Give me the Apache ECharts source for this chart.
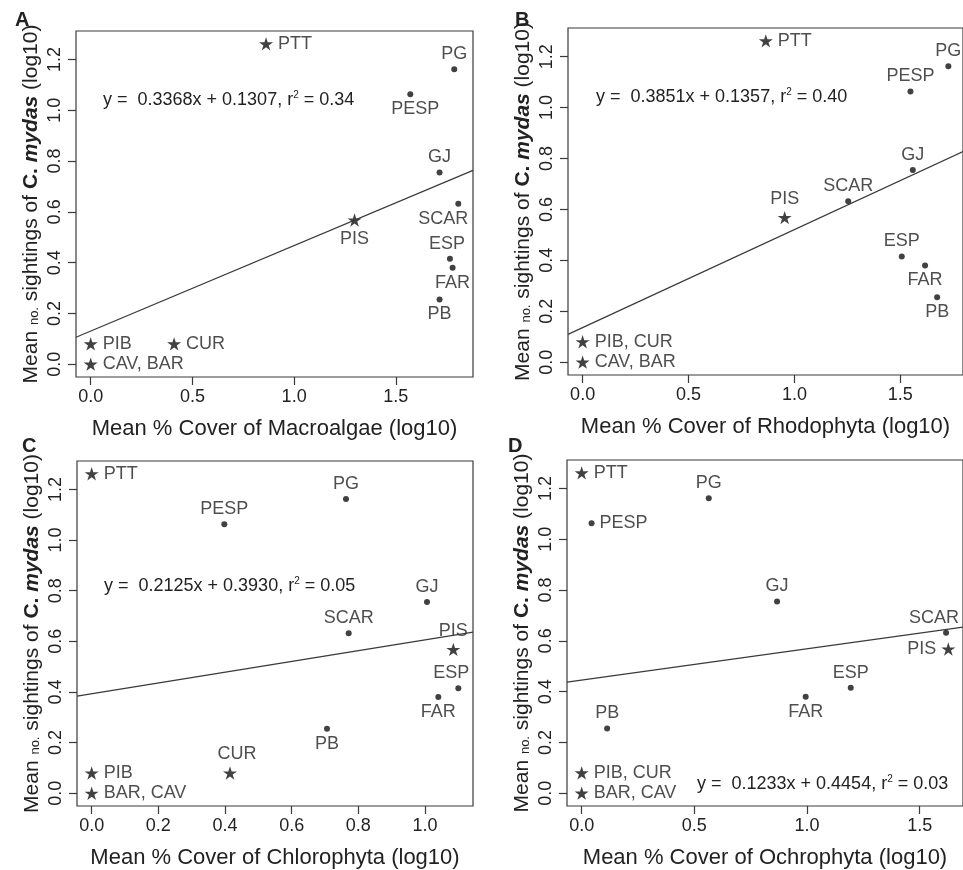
<!DOCTYPE html>
<html>
<head>
<meta charset="utf-8">
<script src="https://cdn.jsdelivr.net/npm/echarts@6/dist/echarts.min.js"></script>
<style>
	html, body { margin: 0; padding: 0; background: #fff; overflow: hidden; }
	#chart { width: 963px; height: 870px; }
</style>
</head>
<body>
<div id="chart"></div>
<script type="text/javascript">

	// sightings (log10) against algal cover (log10), one set per panel
	var labelsA = ['PTT','PG','PESP','GJ','SCAR','PIS','ESP','FAR','PB','PIB','CUR','CAV, BAR'];
	var coverA  = [0.862, 1.787, 1.571, 1.715, 1.807, 1.297, 1.766, 1.779, 1.715, 0, 0.410, 0];
	var sightA  = [1.262, 1.162, 1.063, 0.755, 0.632, 0.568, 0.415, 0.380, 0.255, 0.080, 0.080, 0];

	var labelsB = ['PTT','PG','PESP','GJ','SCAR','PIS','ESP','FAR','PB','PIB, CUR','CAV, BAR'];
	var coverB  = [0.865, 1.727, 1.548, 1.559, 1.254, 0.954, 1.507, 1.617, 1.674, 0, 0];
	var sightB  = [1.262, 1.162, 1.063, 0.755, 0.632, 0.568, 0.415, 0.380, 0.255, 0.080, 0];

	var labelsC = ['PTT','PG','PESP','GJ','SCAR','PIS','ESP','FAR','PB','CUR','PIB','BAR, CAV'];
	var coverC  = [0, 0.763, 0.398, 1.006, 0.771, 1.085, 1.100, 1.040, 0.706, 0.415, 0, 0];
	var sightC  = [1.262, 1.162, 1.063, 0.755, 0.632, 0.568, 0.415, 0.380, 0.255, 0.080, 0.080, 0];

	var labelsD = ['PTT','PG','PESP','GJ','SCAR','PIS','ESP','FAR','PB','PIB, CUR','BAR, CAV'];
	var coverD  = [0, 0.564, 0.044, 0.867, 1.617, 1.627, 1.194, 0.994, 0.113, 0, 0];
	var sightD  = [1.262, 1.162, 1.063, 0.755, 0.632, 0.568, 0.415, 0.380, 0.255, 0.080, 0];

	// fitted lines
	var slopes     = [0.3368, 0.3851, 0.2125, 0.1233];
	var intercepts = [0.1307, 0.1357, 0.3930, 0.4454];
	var rsq        = ['0.34', '0.40', '0.05', '0.03'];

	var xTicksA = [0, 0.5, 1.0, 1.5];
	var xTicksB = [0, 0.5, 1.0, 1.5];
	var xTicksC = [0, 0.2, 0.4, 0.6, 0.8, 1.0];
	var xTicksD = [0, 0.5, 1.0, 1.5];
	var yTicks  = [0, 0.2, 0.4, 0.6, 0.8, 1.0, 1.2];

	var xTitles = ['Macroalgae', 'Rhodophyta', 'Chlorophyta', 'Ochrophyta'];
	var letters = ['A', 'B', 'C', 'D'];

	// sites drawn with a star, the others are dots
	var starSites = ['PTT','PIS','PIB','CUR','CAV','BAR'];

	// label placement (style only)
	var posA = ['right','top','bottom','top','bottom','bottom','top','bottom','bottom','right','right','right'];
	var posB = ['right','top','top','top','top','top','top','bottom','bottom','right','right'];
	var posC = ['right','top','top','top','top','top','top','bottom','bottom','top','right','right'];
	var posD = ['right','top','right','top','top','left','top','bottom','top','right','right'];
	var nudge = [
		{ 'SCAR': [-15, 0], 'PESP': [5, 0], 'ESP': [-3, 0] },
		{},
		{ 'ESP': [-7, 0], 'CUR': [7, 0] },
		{ 'SCAR': [-12, 0] }
	];

	var FONT = '"Liberation Sans", Arial, Helvetica, sans-serif';
	var INK = '#222';
	var LINE = '#3a3a3a';
	var STAR = 'path://M50,0 L61.23,34.55 L97.55,34.55 L68.17,55.9 L79.39,90.45 L50,69.1 L20.61,90.45 L31.83,55.9 L2.45,34.55 L38.77,34.55 Z';

	var panels = [
		{ labels: labelsA, x: coverA, y: sightA, pos: posA, ticks: xTicksA, grid: { left: 76, top: 31, width: 397, height: 346 } },
		{ labels: labelsB, x: coverB, y: sightB, pos: posB, ticks: xTicksB, grid: { left: 568, top: 28, width: 397, height: 347 } },
		{ labels: labelsC, x: coverC, y: sightC, pos: posC, ticks: xTicksC, grid: { left: 77, top: 461, width: 396, height: 346 } },
		{ labels: labelsD, x: coverD, y: sightD, pos: posD, ticks: xTicksD, grid: { left: 567, top: 460, width: 397, height: 347 } }
	];

	// R style axis range: data range padded by 4% each side
	function pad(arr) {
		var lo = Math.min.apply(null, arr), hi = Math.max.apply(null, arr);
		var d = (hi - lo) * 0.04;
		return [lo - d, hi + d];
	}

	var yRange = pad(sightA);
	var grids = [], xAxes = [], yAxes = [], series = [], graphics = [];

	var eqPos = [[103, 100], [596, 97], [104, 586], [697, 784]];
	var letterPos = [[15, 10], [515, 10], [22, 436], [508, 436]];

	panels.forEach(function (p, i) {
		var xr = pad(p.x);
		grids.push(Object.assign({ show: true, borderColor: LINE, borderWidth: 1.2, backgroundColor: 'transparent' }, p.grid));

		xAxes.push({
			gridIndex: i, type: 'value', min: xr[0], max: xr[1],
			axisLine: { show: false, onZero: false }, splitLine: { show: false },
			axisTick: { show: true, inside: false, length: 8, customValues: p.ticks, lineStyle: { color: LINE, width: 1.2 } },
			axisLabel: { customValues: p.ticks, margin: 11, fontSize: 18, fontFamily: FONT, color: INK, formatter: function (v) { return v.toFixed(1); } },
			name: 'Mean % Cover of ' + xTitles[i] + ' (log10)',
			nameLocation: 'middle', nameGap: 41,
			nameTextStyle: { fontSize: 22, fontFamily: FONT, color: INK }
		});

		yAxes.push({
			gridIndex: i, type: 'value', min: yRange[0], max: yRange[1],
			axisLine: { show: false, onZero: false }, splitLine: { show: false },
			axisTick: { show: true, inside: false, length: 8, customValues: yTicks, lineStyle: { color: LINE, width: 1.2 } },
			axisLabel: { customValues: yTicks, rotate: 90, margin: 12, fontSize: 18, fontFamily: FONT, color: INK, formatter: function (v) { return v.toFixed(1); } },
			name: '{n|Mean }{s|no.}{n| sightings of }{b|C. }{bi|mydas}{n| (log10)}',
			nameLocation: 'middle', nameGap: 34,
			nameTextStyle: {
				fontFamily: FONT, color: INK,
				rich: {
					n: { fontSize: 21, fontFamily: FONT, color: INK },
					s: { fontSize: 13, fontFamily: FONT, color: INK, padding: [5, 0, 0, 0] },
					b: { fontSize: 21, fontFamily: FONT, color: INK, fontWeight: 'bold' },
					bi: { fontSize: 21, fontFamily: FONT, color: INK, fontWeight: 'bold', fontStyle: 'italic' }
				}
			}
		});

		// fitted line across the whole plot
		var a = intercepts[i], b = slopes[i];
		series.push({
			type: 'line', xAxisIndex: i, yAxisIndex: i, clip: true, silent: true,
			showSymbol: false, symbol: 'none',
			lineStyle: { color: LINE, width: 1.2 },
			data: [[xr[0], a + b * xr[0]], [xr[1], a + b * xr[1]]]
		});

		var pts = [];
		for (var k = 0; k < p.labels.length; k++) {
			var first = p.labels[k].split(',')[0].trim();
			var isStar = starSites.indexOf(first) >= 0;
			var ps = p.pos[k];
			pts.push({
				value: [p.x[k], p.y[k]],
				name: p.labels[k],
				symbol: isStar ? STAR : 'circle',
				symbolSize: isStar ? 14 : 6,
				label: {
					position: ps,
					distance: (ps === 'top' || ps === 'bottom') ? 3 : 5,
					offset: nudge[i][p.labels[k]] || [0, 0]
				}
			});
		}
		series.push({
			type: 'scatter', xAxisIndex: i, yAxisIndex: i, clip: false,
			symbolKeepAspect: true,
			itemStyle: { color: '#111' },
			label: { show: true, formatter: '{b}', fontSize: 18, fontFamily: FONT, color: INK },
			data: pts
		});

		graphics.push({
			type: 'text', x: eqPos[i][0], y: eqPos[i][1],
			style: {
				text: 'y =  ' + b.toFixed(4) + 'x + ' + a.toFixed(4) + ', r{sup|2} = ' + rsq[i],
				font: '18px ' + FONT, fill: INK, verticalAlign: 'middle',
				rich: { sup: { fontSize: 10, fontFamily: FONT, fill: INK, padding: [0, 0, 9, 0] } }
			}
		});
		graphics.push({
			type: 'text', x: letterPos[i][0], y: letterPos[i][1],
			style: { text: letters[i], font: 'bold 20px ' + FONT, fill: INK }
		});
	});

	var option = {
		animation: false,
		backgroundColor: '#fff',
		grid: grids,
		xAxis: xAxes,
		yAxis: yAxes,
		series: series,
		graphic: graphics
	};
	var myChart = echarts.init(document.getElementById('chart'));
	myChart.setOption(option);

</script>
</body>
</html>
